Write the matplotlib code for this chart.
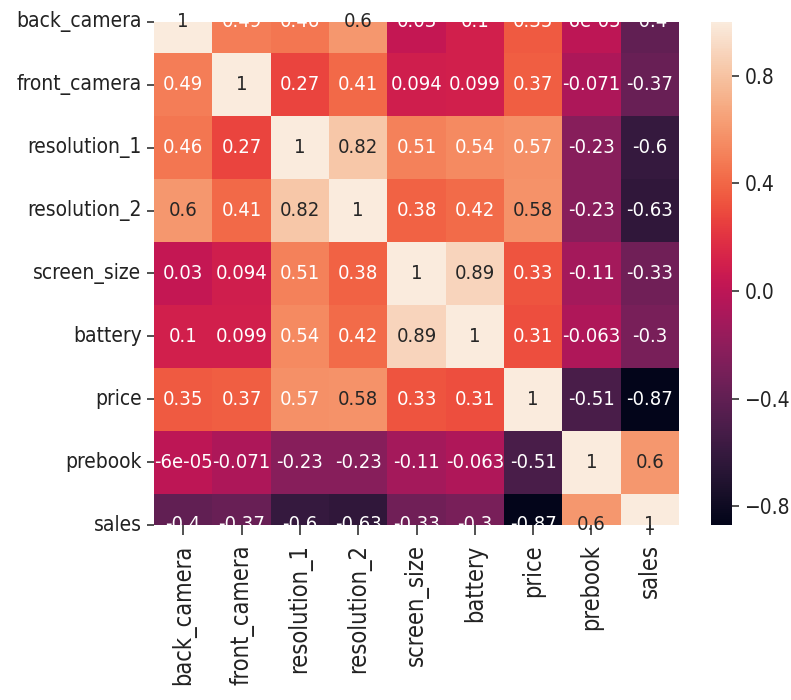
import numpy as np
import pandas as pd
import matplotlib
matplotlib.use("Agg")
import matplotlib.pyplot as plt
import seaborn as sns

labels = ["back_camera", "front_camera", "resolution_1", "resolution_2",
          "screen_size", "battery", "price", "prebook", "sales"]

back_camera  = [1, 0.49, 0.46, 0.6, 0.03, 0.1, 0.35, -6e-05, -0.4]
front_camera = [0.49, 1, 0.27, 0.41, 0.094, 0.099, 0.37, -0.071, -0.37]
resolution_1 = [0.46, 0.27, 1, 0.82, 0.51, 0.54, 0.57, -0.23, -0.6]
resolution_2 = [0.6, 0.41, 0.82, 1, 0.38, 0.42, 0.58, -0.23, -0.63]
screen_size  = [0.03, 0.094, 0.51, 0.38, 1, 0.89, 0.33, -0.11, -0.33]
battery      = [0.1, 0.099, 0.54, 0.42, 0.89, 1, 0.31, -0.063, -0.3]
price        = [0.35, 0.37, 0.57, 0.58, 0.33, 0.31, 1, -0.51, -0.87]
prebook      = [-6e-05, -0.071, -0.23, -0.23, -0.11, -0.063, -0.51, 1, 0.6]
sales        = [-0.4, -0.37, -0.6, -0.63, -0.33, -0.3, -0.87, 0.6, 1]

corr = pd.DataFrame([back_camera, front_camera, resolution_1, resolution_2,
                     screen_size, battery, price, prebook, sales],
                    index=labels, columns=labels)

plt.rcParams['font.family'] = ['DejaVu Sans']
plt.rcParams['font.stretch'] = 'condensed'
fig = plt.figure(figsize=(7.91, 7.00), dpi=100)
ax = fig.add_axes([0.1947, 0.25, 0.6637, 0.7186])
cax = fig.add_axes([0.8989, 0.25, 0.0265, 0.7186])

sns.heatmap(corr, annot=True, ax=ax, cbar_ax=cax,
            annot_kws={"fontsize": 14.5, "fontstretch": "condensed"})

ax.set_ylim(8.5, 0.5)
ax.set_xticks(np.arange(len(labels)) + 0.5)
ax.set_xticklabels(labels, rotation=90, fontsize=17, fontstretch="condensed")
ax.set_yticks(np.arange(len(labels)) + 0.5)
ax.set_yticklabels(labels, rotation=0, fontsize=15, fontstretch="condensed")
ax.tick_params(axis="x", length=7, width=1.2, pad=7, color="#333333", labelcolor="#222222")
ax.tick_params(axis="y", length=5, width=1.2, pad=4, color="#333333", labelcolor="#222222")

cax.set_yticks([-0.8, -0.4, 0.0, 0.4, 0.8])
cax.tick_params(labelsize=15, length=5, width=1.2, pad=4, color="#333333", labelcolor="#222222")
for t in cax.get_yticklabels():
    t.set_fontstretch("condensed")

fig.savefig("out.png", dpi=100)
